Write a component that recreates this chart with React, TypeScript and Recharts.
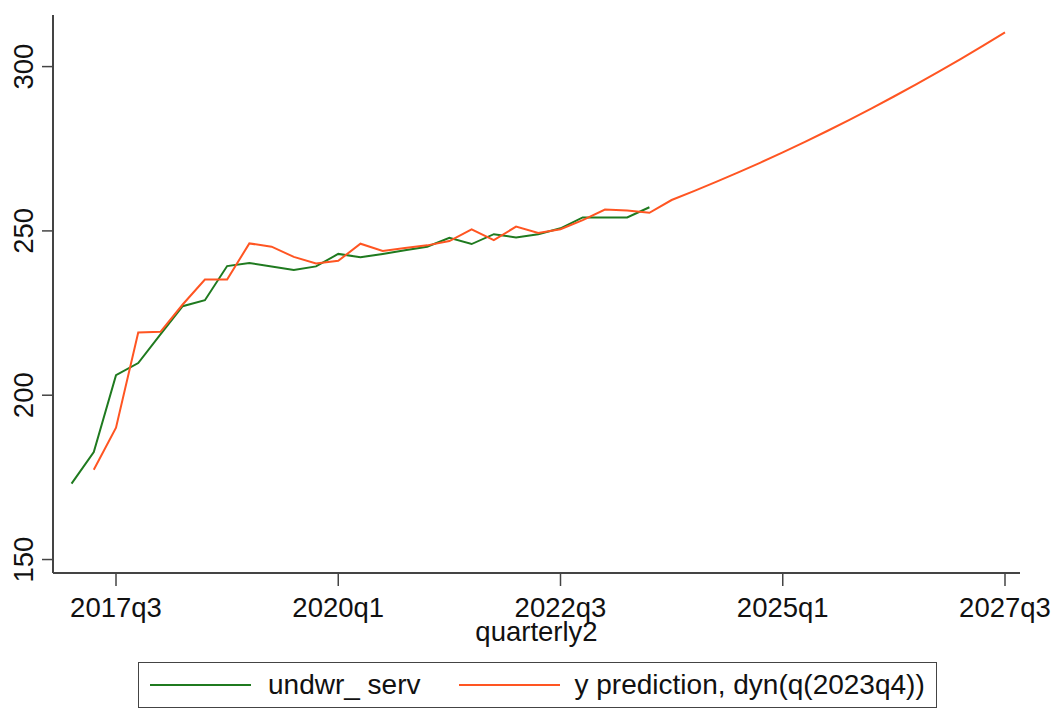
import React from "react";
import { Legend, Line, LineChart, XAxis, YAxis } from "recharts";

// quarters 2017q1 .. 2027q3
const quarters = [
  "2017q1", "2017q2", "2017q3", "2017q4",
  "2018q1", "2018q2", "2018q3", "2018q4",
  "2019q1", "2019q2", "2019q3", "2019q4",
  "2020q1", "2020q2", "2020q3", "2020q4",
  "2021q1", "2021q2", "2021q3", "2021q4",
  "2022q1", "2022q2", "2022q3", "2022q4",
  "2023q1", "2023q2", "2023q3", "2023q4",
  "2024q1", "2024q2", "2024q3", "2024q4",
  "2025q1", "2025q2", "2025q3", "2025q4",
  "2026q1", "2026q2", "2026q3", "2026q4",
  "2027q1", "2027q2", "2027q3",
];

// observed, 2017q1 .. 2023q3
const undwrServ = [
  173.1, 182.7, 206.1, 209.8, 218.5, 227.1, 228.9, 239.3, 240.2, 239.2,
  238.1, 239.2, 243.0, 242.0, 243.0, 244.1, 245.2, 247.9, 246.0, 249.0,
  248.0, 249.0, 250.8, 254.1, 254.1, 254.1, 257.2,
];

// dynamic prediction, 2017q2 .. 2027q3
const yPrediction = [
  177.3, 190.1, 219.1, 219.3, 227.6, 235.2, 235.2, 246.2, 245.2, 242.1,
  240.1, 240.9, 246.1, 243.9, 244.8, 245.6, 246.9, 250.5, 247.2, 251.3,
  249.4, 250.5, 253.3, 256.5, 256.2, 255.5, 259.4, 262.1, 264.9, 267.8,
  270.8, 273.9, 277.1, 280.4, 283.8, 287.3, 290.9, 294.6, 298.4, 302.3,
  306.3, 310.4,
];
const predictionStart = 1;

const xTicks = [2, 12, 22, 32, 42];
const yTicks = [150, 200, 250, 300];

const GREEN = "#1f7a1f";
const ORANGE = "#ff5522";
const FRAME = "#444";
const FONT = '"Liberation Sans", Arial, sans-serif';

const series = [
  { key: "undwr", name: "undwr_ serv", color: GREEN },
  { key: "pred", name: "y prediction, dyn(q(2023q4))", color: ORANGE },
];

const data = quarters.map((q, t) => ({
  t,
  q,
  undwr: t < undwrServ.length ? undwrServ[t] : null,
  pred: t >= predictionStart ? yPrediction[t - predictionStart] : null,
}));

const X_DOMAIN: [number, number] = [-0.835, 42.675];
const Y_DOMAIN: [number, number] = [145.9, 315.7];

function XTick({ x, y, payload }: any) {
  return (
    <text x={x} y={y + 31} textAnchor="middle" fontFamily={FONT} fontSize={27.5} fill="#111">
      {quarters[payload.value]}
    </text>
  );
}

function YTick({ x, y, payload }: any) {
  const bx = x - 9;
  return (
    <text
      x={bx}
      y={y}
      transform={`rotate(-90, ${bx}, ${y})`}
      textAnchor="middle"
      fontFamily={FONT}
      fontSize={27.5}
      fill="#111"
    >
      {payload.value}
    </text>
  );
}

function LegendBox() {
  const gaps = [[11, 17], [38, 15]];
  return (
    <div
      style={{
        marginLeft: 138,
        width: 799,
        height: 46,
        boxSizing: "border-box",
        border: `1.5px solid ${FRAME}`,
        display: "flex",
        alignItems: "center",
        fontFamily: FONT,
        fontSize: 28,
        color: "#111",
        whiteSpace: "pre",
      }}
    >
      {series.map((s, i) => (
        <React.Fragment key={s.key}>
          <span style={{ marginLeft: gaps[i][0], width: 101, borderTop: `2px solid ${s.color}` }} />
          <span style={{ marginLeft: gaps[i][1] }}>{s.name}</span>
        </React.Fragment>
      ))}
    </div>
  );
}

export default function App() {
  return (
    <div style={{ width: 1051, height: 710, background: "#fff" }}>
      <style>{"body{margin:0}"}</style>
      <LineChart
        width={1051}
        height={710}
        data={data}
        margin={{ top: 15, right: 31, bottom: 2, left: 0 }}
      >
        <XAxis
          dataKey="t"
          type="number"
          domain={X_DOMAIN}
          allowDataOverflow
          ticks={xTicks}
          interval={0}
          height={89}
          tickSize={13}
          tickMargin={0}
          tick={<XTick />}
          axisLine={{ stroke: FRAME, strokeWidth: 2 }}
          tickLine={{ stroke: FRAME, strokeWidth: 1.5 }}
          label={{
            value: "quarterly2",
            position: "insideBottom",
            offset: 21,
            fontFamily: FONT,
            fontSize: 27.5,
            fill: "#111",
          }}
        />
        <XAxis
          xAxisId="top"
          orientation="top"
          dataKey="t"
          type="number"
          domain={X_DOMAIN}
          allowDataOverflow
          height={0}
          tick={false}
          tickLine={false}
          axisLine={{ stroke: FRAME, strokeWidth: 2 }}
        />
        <YAxis
          type="number"
          domain={Y_DOMAIN}
          allowDataOverflow
          ticks={yTicks}
          interval={0}
          width={53}
          tickSize={11}
          tickMargin={0}
          tick={<YTick />}
          axisLine={{ stroke: FRAME, strokeWidth: 2 }}
          tickLine={{ stroke: FRAME, strokeWidth: 1.5 }}
        />
        <YAxis
          yAxisId="right"
          orientation="right"
          type="number"
          domain={Y_DOMAIN}
          allowDataOverflow
          width={0}
          tick={false}
          tickLine={false}
          axisLine={{ stroke: FRAME, strokeWidth: 2 }}
        />
        <Legend
          verticalAlign="bottom"
          content={<LegendBox />}
          wrapperStyle={{ left: 0, width: 1051 }}
        />
        {series.map((s) => (
          <Line
            key={s.key}
            type="linear"
            dataKey={s.key}
            name={s.name}
            stroke={s.color}
            strokeWidth={2}
            dot={false}
            activeDot={false}
            isAnimationActive={false}
          />
        ))}
      </LineChart>
    </div>
  );
}
